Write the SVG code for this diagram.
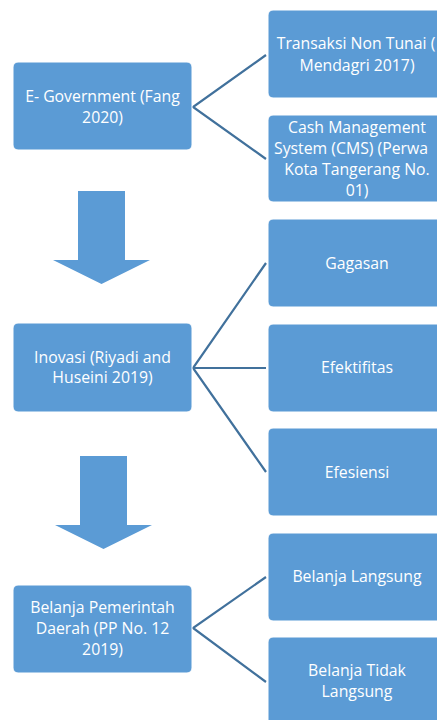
<svg xmlns="http://www.w3.org/2000/svg" width="437" height="720" viewBox="0 0 437 720">
<style>
.box{fill:#5B9BD5;stroke:#ffffff;stroke-width:1}
.arrow{fill:#5B9BD5}
.t{font-family:"Open Sans","Noto Sans","DejaVu Sans",sans-serif;font-size:15.8px;fill:#ffffff;text-anchor:middle}
.s{text-anchor:start}
.conn{stroke:#41719C;stroke-width:2.2;fill:none}
</style>
<rect width="437" height="720" fill="#ffffff"/>
<g id="connectors">
<polyline class="conn" points="266,55 193,107 266,159"/>
<polyline class="conn" points="266,263 193,368 266,472"/>
<line class="conn" x1="193" y1="368" x2="266" y2="368"/>
<polyline class="conn" points="266,577 193,628 266,682"/>
</g>
<g id="arrow1"><polygon class="arrow" points="78,191 125,191 125,260 150,260 101.5,284 53,260 78,260"/></g>
<g id="arrow2"><polygon class="arrow" points="80,456 127,456 127,525 152,525 103.5,549 55,525 80,525"/></g>
<g id="egov">
<rect class="box" x="13" y="62" width="179" height="88" rx="5"/>
<text class="t" x="102.5" y="101.7">E- Government (Fang</text>
<text class="t" x="102.5" y="122.7">2020)</text>
</g>
<g id="transaksi">
<rect class="box" x="268" y="10" width="179" height="88" rx="5"/>
<text class="t s" x="276.7" y="49">Transaksi Non Tunai (</text>
<text class="t" x="357" y="70.7">Mendagri 2017)</text>
</g>
<g id="cms">
<rect class="box" x="268" y="115" width="179" height="87" rx="5"/>
<text class="t" x="357" y="133">Cash Management</text>
<text class="t s" x="274" y="154">System (CMS) (Perwa</text>
<text class="t" x="357" y="175">Kota Tangerang No.</text>
<text class="t" x="357" y="195.5">01)</text>
</g>
<g id="inovasi">
<rect class="box" x="13" y="323" width="179" height="89" rx="5"/>
<text class="t" x="102.5" y="362.7">Inovasi (Riyadi and</text>
<text class="t" x="102.5" y="383.3">Huseini 2019)</text>
</g>
<g id="gagasan">
<rect class="box" x="268" y="219" width="179" height="88" rx="5"/>
<text class="t" x="357" y="269.3">Gagasan</text>
</g>
<g id="efektifitas">
<rect class="box" x="268" y="324" width="179" height="88" rx="5"/>
<text class="t" x="357" y="373">Efektifitas</text>
</g>
<g id="efesiensi">
<rect class="box" x="268" y="428" width="179" height="88" rx="5"/>
<text class="t" x="357" y="477.7">Efesiensi</text>
</g>
<g id="belanja">
<rect class="box" x="13" y="585" width="179" height="88" rx="5"/>
<text class="t" x="102.5" y="613.3">Belanja Pemerintah</text>
<text class="t" x="102.5" y="634">Daerah (PP No. 12</text>
<text class="t" x="102.5" y="655">2019)</text>
</g>
<g id="langsung">
<rect class="box" x="268" y="533" width="179" height="88" rx="5"/>
<text class="t" x="357" y="581.7">Belanja Langsung</text>
</g>
<g id="tidaklangsung">
<rect class="box" x="268" y="637" width="179" height="88" rx="5"/>
<text class="t" x="357" y="676">Belanja Tidak</text>
<text class="t" x="357" y="696.7">Langsung</text>
</g>
</svg>
